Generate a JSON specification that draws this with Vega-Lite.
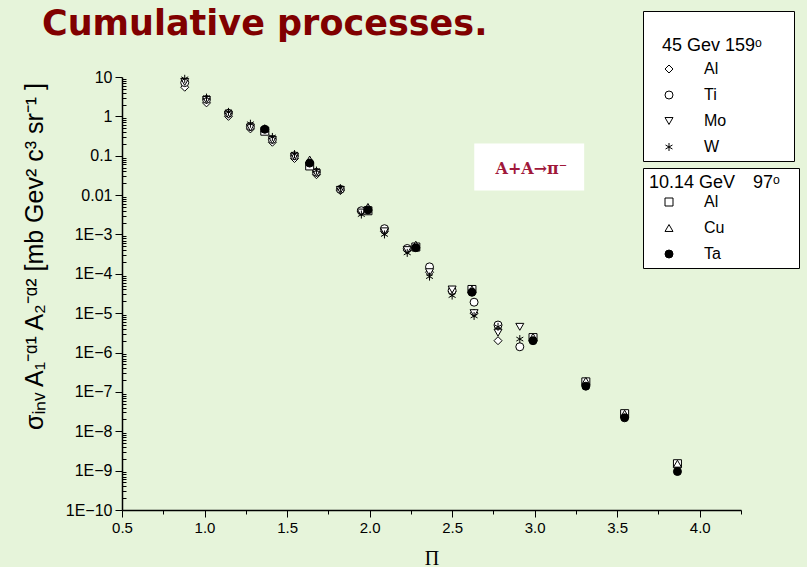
{
  "$schema": "https://vega.github.io/schema/vega-lite/v6.json",
  "width": 619,
  "height": 433,
  "autosize": {"type": "none"},
  "padding": {"left": 122, "top": 77, "right": 66, "bottom": 57},
  "background": "#e6f4da",
  "title": {
    "text": "Cumulative processes.",
    "anchor": "start",
    "frame": "group",
    "font": "DejaVu Sans",
    "fontSize": 35,
    "fontWeight": "bold",
    "color": "#800000",
    "dx": -80,
    "dy": 100,
    "offset": 41,
    "baseline": "alphabetic"
  },
  "datasets": {
    "pts": [
      {"E": "45", "t": "Al", "x": 0.88, "y": 5.5}, {"E": "45", "t": "Ti", "x": 0.88, "y": 7.2}, {"E": "45", "t": "Mo", "x": 0.88, "y": 7.5}, {"E": "45", "t": "W", "x": 0.88, "y": 9},
      {"E": "45", "t": "Al", "x": 1.012, "y": 2.2}, {"E": "45", "t": "Ti", "x": 1.012, "y": 2.7}, {"E": "45", "t": "Mo", "x": 1.012, "y": 2.6}, {"E": "45", "t": "W", "x": 1.012, "y": 3.0},
      {"E": "45", "t": "Al", "x": 1.145, "y": 1.0}, {"E": "45", "t": "Ti", "x": 1.145, "y": 1.2}, {"E": "45", "t": "Mo", "x": 1.145, "y": 1.1}, {"E": "45", "t": "W", "x": 1.145, "y": 1.3},
      {"E": "45", "t": "Al", "x": 1.278, "y": 0.48}, {"E": "45", "t": "Ti", "x": 1.278, "y": 0.55}, {"E": "45", "t": "Mo", "x": 1.278, "y": 0.52}, {"E": "45", "t": "W", "x": 1.278, "y": 0.65},
      {"E": "45", "t": "Al", "x": 1.411, "y": 0.22}, {"E": "45", "t": "Ti", "x": 1.411, "y": 0.26}, {"E": "45", "t": "Mo", "x": 1.411, "y": 0.25}, {"E": "45", "t": "W", "x": 1.411, "y": 0.3},
      {"E": "45", "t": "Al", "x": 1.545, "y": 0.085}, {"E": "45", "t": "Ti", "x": 1.545, "y": 0.1}, {"E": "45", "t": "Mo", "x": 1.545, "y": 0.095}, {"E": "45", "t": "W", "x": 1.545, "y": 0.11},
      {"E": "45", "t": "Al", "x": 1.678, "y": 0.033}, {"E": "45", "t": "Ti", "x": 1.678, "y": 0.038}, {"E": "45", "t": "Mo", "x": 1.678, "y": 0.036}, {"E": "45", "t": "W", "x": 1.678, "y": 0.042},
      {"E": "45", "t": "Al", "x": 1.823, "y": 0.013}, {"E": "45", "t": "Ti", "x": 1.823, "y": 0.014}, {"E": "45", "t": "Mo", "x": 1.823, "y": 0.0135}, {"E": "45", "t": "W", "x": 1.823, "y": 0.015},
      {"E": "45", "t": "Al", "x": 1.95, "y": 0.0038}, {"E": "45", "t": "Ti", "x": 1.95, "y": 0.004}, {"E": "45", "t": "Mo", "x": 1.95, "y": 0.0036}, {"E": "45", "t": "W", "x": 1.95, "y": 0.0032},
      {"E": "45", "t": "Al", "x": 2.09, "y": 0.0012}, {"E": "45", "t": "Ti", "x": 2.09, "y": 0.0014}, {"E": "45", "t": "Mo", "x": 2.09, "y": 0.0012}, {"E": "45", "t": "W", "x": 2.09, "y": 0.001},
      {"E": "45", "t": "Al", "x": 2.228, "y": 0.0004}, {"E": "45", "t": "Ti", "x": 2.228, "y": 0.00044}, {"E": "45", "t": "Mo", "x": 2.228, "y": 0.0004}, {"E": "45", "t": "W", "x": 2.228, "y": 0.00034},
      {"E": "45", "t": "Al", "x": 2.363, "y": 0.00011}, {"E": "45", "t": "Ti", "x": 2.363, "y": 0.00015}, {"E": "45", "t": "Mo", "x": 2.363, "y": 0.00011}, {"E": "45", "t": "W", "x": 2.363, "y": 0.000085},
      {"E": "45", "t": "Al", "x": 2.5, "y": 0.000035}, {"E": "45", "t": "Ti", "x": 2.5, "y": 0.000038}, {"E": "45", "t": "Mo", "x": 2.5, "y": 0.00004}, {"E": "45", "t": "W", "x": 2.5, "y": 0.000028},
      {"E": "45", "t": "Al", "x": 2.633, "y": 0.00001}, {"E": "45", "t": "Ti", "x": 2.633, "y": 0.000019}, {"E": "45", "t": "Mo", "x": 2.633, "y": 0.00001}, {"E": "45", "t": "W", "x": 2.633, "y": 0.0000085},
      {"E": "45", "t": "Al", "x": 2.778, "y": 0.000002}, {"E": "45", "t": "Ti", "x": 2.778, "y": 0.000005}, {"E": "45", "t": "Mo", "x": 2.778, "y": 0.0000032}, {"E": "45", "t": "W", "x": 2.778, "y": 0.0000045},
      {"E": "45", "t": "Ti", "x": 2.91, "y": 0.0000014}, {"E": "45", "t": "Mo", "x": 2.91, "y": 0.0000045}, {"E": "45", "t": "W", "x": 2.91, "y": 0.0000022},
      {"E": "10", "t": "Al", "x": 1.365, "y": 0.42}, {"E": "10", "t": "Cu", "x": 1.365, "y": 0.5}, {"E": "10", "t": "Ta", "x": 1.365, "y": 0.47},
      {"E": "10", "t": "Al", "x": 1.637, "y": 0.055}, {"E": "10", "t": "Cu", "x": 1.637, "y": 0.08}, {"E": "10", "t": "Ta", "x": 1.637, "y": 0.065},
      {"E": "10", "t": "Al", "x": 1.99, "y": 0.004}, {"E": "10", "t": "Cu", "x": 1.99, "y": 0.005}, {"E": "10", "t": "Ta", "x": 1.99, "y": 0.0042},
      {"E": "10", "t": "Al", "x": 2.28, "y": 0.00048}, {"E": "10", "t": "Cu", "x": 2.28, "y": 0.00055}, {"E": "10", "t": "Ta", "x": 2.28, "y": 0.00046},
      {"E": "10", "t": "Al", "x": 2.62, "y": 0.00004}, {"E": "10", "t": "Cu", "x": 2.62, "y": 0.00004}, {"E": "10", "t": "Ta", "x": 2.62, "y": 0.000034},
      {"E": "10", "t": "Al", "x": 2.99, "y": 0.0000024}, {"E": "10", "t": "Cu", "x": 2.99, "y": 0.0000025}, {"E": "10", "t": "Ta", "x": 2.99, "y": 0.000002},
      {"E": "10", "t": "Al", "x": 3.31, "y": 1.8e-7}, {"E": "10", "t": "Cu", "x": 3.31, "y": 1.9e-7}, {"E": "10", "t": "Ta", "x": 3.31, "y": 1.4e-7},
      {"E": "10", "t": "Al", "x": 3.545, "y": 2.8e-8}, {"E": "10", "t": "Cu", "x": 3.545, "y": 2.8e-8}, {"E": "10", "t": "Ta", "x": 3.545, "y": 2.2e-8},
      {"E": "10", "t": "Al", "x": 3.865, "y": 1.5e-9}, {"E": "10", "t": "Cu", "x": 3.865, "y": 1.5e-9}, {"E": "10", "t": "Ta", "x": 3.865, "y": 9.5e-10}
    ]
  },
  "layer": [
    {
      "data": {"values": [{}]},
      "mark": {"type": "rect", "fill": "white", "stroke": null},
      "encoding": {
        "x": {"datum": 2.634, "type": "quantitative", "axis": null},
        "x2": {"datum": 3.3},
        "y": {"datum": 0.204, "type": "quantitative", "axis": null},
        "y2": {"datum": 0.01306}
      }
    },
    {
      "data": {"values": [{}]},
      "mark": {"type": "text", "text": "A+A→π⁻", "font": "DejaVu Serif", "fontSize": 16, "fontWeight": "bold", "color": "#a0183a", "align": "center", "baseline": "middle"},
      "encoding": {
        "x": {"datum": 2.98, "type": "quantitative", "axis": null},
        "y": {"datum": 0.0447, "type": "quantitative", "axis": null}
      }
    },
    {
      "data": {"name": "pts"},
      "transform": [{"filter": "datum.E === '45'"}],
      "mark": {"type": "point", "filled": true, "stroke": "black", "strokeWidth": 1, "opacity": 1},
      "encoding": {
        "x": {
          "field": "x", "type": "quantitative",
          "scale": {"domain": [0.5, 4.25], "nice": false, "zero": false},
          "axis": {
            "orient": "bottom",
            "values": [0.5, 1.0, 1.5, 2.0, 2.5, 3.0, 3.5, 4.0],
            "format": ".1f",
            "tickSize": 7,
            "labelPadding": 3,
            "labelFontSize": 15,
            "domainWidth": 1.5,
            "title": "Π",
            "titleFont": "Liberation Serif",
            "titleFontSize": 20,
            "titleFontWeight": "normal",
            "titlePadding": 13
          }
        },
        "y": {
          "field": "y", "type": "quantitative",
          "scale": {"type": "log", "domain": [1e-10, 10], "nice": false},
          "axis": {
            "orient": "left",
            "values": [1e-10, 1e-9, 1e-8, 1e-7, 1e-6, 1e-5, 1e-4, 1e-3, 0.01, 0.1, 1, 10],
            "labelExpr": "datum.value >= 1 ? format(datum.value, '.0f') : (datum.value >= 0.01 ? format(datum.value, '.2~f') : '1E' + format(log(datum.value) / LN10, '.0f'))",
            "tickSize": 7,
            "labelPadding": 3,
            "labelFontSize": 16,
            "domainWidth": 1.5,
            "title": "σᵢₙᵥ A₁⁻ᵅ¹ A₂⁻ᵅ² [mb Gev² c³ sr⁻¹ ]",
            "titleFont": "Liberation Sans",
            "titleFontSize": 25,
            "titleFontWeight": "normal",
            "titleX": -88,
            "titleY": 179,
            "titleAngle": -90,
            "titleAlign": "center",
            "titleBaseline": "middle"
          }
        },
        "shape": {
          "field": "t", "type": "nominal",
          "scale": {"domain": ["Al", "Ti", "Mo", "W"], "range": ["diamond", "circle", "triangle-down", "M0,-1L0,1M-0.87,-0.5L0.87,0.5M-0.87,0.5L0.87,-0.5"]},
          "legend": {
            "title": ["", "⠀45 Gev 159ᵒ⠀⠀"],
            "orient": "none",
            "legendX": 521,
            "legendY": -66,
            "titlePadding": 6,
            "encode": {"title": {"update": {"fontSize": {"value": 18}}}}
          }
        },
        "fill": {
          "field": "t", "type": "nominal",
          "scale": {"domain": ["Al", "Ti", "Mo", "W"], "range": ["white", "white", "white", "white"]},
          "legend": {
            "title": ["", "⠀45 Gev 159ᵒ⠀⠀"],
            "orient": "none",
            "legendX": 521,
            "legendY": -66,
            "titlePadding": 6,
            "encode": {"title": {"update": {"fontSize": {"value": 18}}}}
          }
        },
        "size": {
          "field": "t", "type": "nominal",
          "scale": {"domain": ["Al", "Ti", "Mo", "W"], "range": [64, 64, 64, 64]},
          "legend": {
            "title": ["", "⠀45 Gev 159ᵒ⠀⠀"],
            "orient": "none",
            "legendX": 521,
            "legendY": -66,
            "titlePadding": 6,
            "encode": {"title": {"update": {"fontSize": {"value": 18}}}}
          }
        }
      }
    },
    {
      "data": {"name": "pts"},
      "transform": [{"filter": "datum.E === '10'"}],
      "mark": {"type": "point", "filled": true, "stroke": "black", "strokeWidth": 1, "opacity": 1},
      "encoding": {
        "x": {
          "field": "x", "type": "quantitative",
          "axis": {
            "orient": "bottom",
            "values": [0.75, 1.25, 1.75, 2.25, 2.75, 3.25, 3.75, 4.25],
            "labels": false,
            "title": null,
            "domain": false,
            "tickSize": 4
          }
        },
        "y": {
          "field": "y", "type": "quantitative",
          "axis": {
            "orient": "left",
            "values": [2e-10, 3e-10, 4e-10, 5e-10, 6e-10, 7e-10, 8e-10, 9e-10,
                       2e-9, 3e-9, 4e-9, 5e-9, 6e-9, 7e-9, 8e-9, 9e-9,
                       2e-8, 3e-8, 4e-8, 5e-8, 6e-8, 7e-8, 8e-8, 9e-8,
                       2e-7, 3e-7, 4e-7, 5e-7, 6e-7, 7e-7, 8e-7, 9e-7,
                       2e-6, 3e-6, 4e-6, 5e-6, 6e-6, 7e-6, 8e-6, 9e-6,
                       2e-5, 3e-5, 4e-5, 5e-5, 6e-5, 7e-5, 8e-5, 9e-5,
                       2e-4, 3e-4, 4e-4, 5e-4, 6e-4, 7e-4, 8e-4, 9e-4,
                       0.002, 0.003, 0.004, 0.005, 0.006, 0.007, 0.008, 0.009,
                       0.02, 0.03, 0.04, 0.05, 0.06, 0.07, 0.08, 0.09,
                       0.2, 0.3, 0.4, 0.5, 0.6, 0.7, 0.8, 0.9,
                       2, 3, 4, 5, 6, 7, 8, 9],
            "labels": false,
            "title": null,
            "domain": false,
            "tickSize": -4
          }
        },
        "shape": {
          "field": "t", "type": "nominal",
          "scale": {"domain": ["Al", "Cu", "Ta"], "range": ["square", "triangle-up", "circle"]},
          "legend": {
            "title": "10.14 GeV ⠀97ᵒ⠀",
            "orient": "none",
            "legendX": 521,
            "legendY": 91,
            "titlePadding": 2,
            "encode": {"title": {"update": {"fontSize": {"value": 18}}}}
          }
        },
        "fill": {
          "field": "t", "type": "nominal",
          "scale": {"domain": ["Al", "Cu", "Ta"], "range": ["white", "white", "black"]},
          "legend": {
            "title": "10.14 GeV ⠀97ᵒ⠀",
            "orient": "none",
            "legendX": 521,
            "legendY": 91,
            "titlePadding": 2,
            "encode": {"title": {"update": {"fontSize": {"value": 18}}}}
          }
        },
        "size": {
          "field": "t", "type": "nominal",
          "scale": {"domain": ["Al", "Cu", "Ta"], "range": [64, 64, 36]},
          "legend": {
            "title": "10.14 GeV ⠀97ᵒ⠀",
            "orient": "none",
            "legendX": 521,
            "legendY": 91,
            "titlePadding": 2,
            "encode": {"title": {"update": {"fontSize": {"value": 18}}}}
          }
        }
      }
    }
  ],
  "resolve": {
    "scale": {"shape": "independent", "fill": "independent", "size": "independent"},
    "axis": {"x": "independent", "y": "independent"},
    "legend": {"shape": "independent", "fill": "independent", "size": "independent"}
  },
  "config": {
    "view": {"stroke": null},
    "axis": {
      "grid": false,
      "domainColor": "black",
      "tickColor": "black",
      "labelColor": "black",
      "titleColor": "black",
      "labelFont": "Liberation Sans",
      "labelFontSize": 14,
      "labelFlush": false,
      "labelOverlap": false
    },
    "legend": {
      "padding": 6,
      "fillColor": "white",
      "strokeColor": "black",
      "labelFont": "Liberation Sans",
      "labelFontSize": 16,
      "labelColor": "black",
      "titleFont": "Liberation Sans",
      "titleFontSize": 18,
      "titleFontWeight": "normal",
      "titleColor": "black",
      "titleLineHeight": 20,
      "titleLimit": 400,
      "rowPadding": 10,
      "symbolOffset": 12,
      "labelOffset": 27,
      "symbolStrokeColor": "black",
      "symbolStrokeWidth": 1,
      "symbolSize": 50,
      "symbolFillColor": "white"
    }
  }
}
